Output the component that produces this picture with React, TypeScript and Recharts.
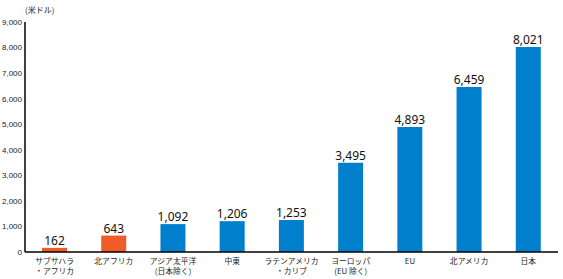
import React from 'react'
import { BarChart, Bar, XAxis, YAxis, Cell, LabelList } from 'recharts'

const categories = [
  'サブサハラ\n・アフリカ',
  '北アフリカ',
  'アジア太平洋\n(日本除く)',
  '中東',
  'ラテンアメリカ\n・カリブ',
  'ヨーロッパ\n(EU 除く)',
  'EU',
  '北アメリカ',
  '日本',
]
const values = [162, 643, 1092, 1206, 1253, 3495, 4893, 6459, 8021]
const isAfrica = [true, true, false, false, false, false, false, false, false]
const yTicks = [0, 1000, 2000, 3000, 4000, 5000, 6000, 7000, 8000, 9000]

const ORANGE = '#f15a29'
const BLUE = '#0080cc'
const FONT = '"Noto Sans CJK JP", sans-serif'

const data = categories.map((name, i) => ({ name, value: values[i], africa: isAfrica[i] }))

const CategoryTick = (props: any) => {
  const { x, y, payload } = props
  const lines = String(payload.value).split('\n')
  return (
    <g>
      {lines.map((l, i) => (
        <text key={i} x={x} y={y + 4 + i * 9.5} textAnchor="middle" fontSize={7.8} fill="#222" fontFamily={FONT}>
          {l}
        </text>
      ))}
    </g>
  )
}

export default function App() {
  return (
    <div style={{ position: 'absolute', left: 0, top: 0, background: '#fff' }}>
      <BarChart
        width={563}
        height={279}
        data={data}
        margin={{ top: 22, right: 5, left: 0, bottom: 0 }}
        barCategoryGap={0}
      >
        <text x={25} y={13} fontSize={8} fill="#222" fontFamily={FONT}>(米ドル)</text>
        <XAxis
          dataKey="name"
          height={27}
          interval={0}
          tickLine={false}
          axisLine={{ stroke: '#000', strokeWidth: 1.5 }}
          tick={<CategoryTick />}
        />
        <YAxis
          width={25}
          domain={[0, 9000]}
          ticks={yTicks}
          interval={0}
          tickLine={false}
          tickSize={0}
          axisLine={{ stroke: '#000', strokeWidth: 1.5 }}
          tickFormatter={(v: number) => v.toLocaleString('en-US')}
          tick={{ fontSize: 8, fill: '#1a1a1a', fontFamily: '"Liberation Sans", sans-serif' }}
          tickMargin={3}
        />
        <Bar dataKey="value" barSize={25} isAnimationActive={false}>
          {data.map((d, i) => (
            <Cell key={i} fill={d.africa ? ORANGE : BLUE} />
          ))}
          <LabelList
            dataKey="value"
            position="top"
            offset={3}
            formatter={(v: number) => v.toLocaleString('en-US')}
            style={{ fontSize: 12, fill: '#111', fontFamily: '"Noto Sans", sans-serif' }}
          />
        </Bar>
      </BarChart>
    </div>
  )
}
